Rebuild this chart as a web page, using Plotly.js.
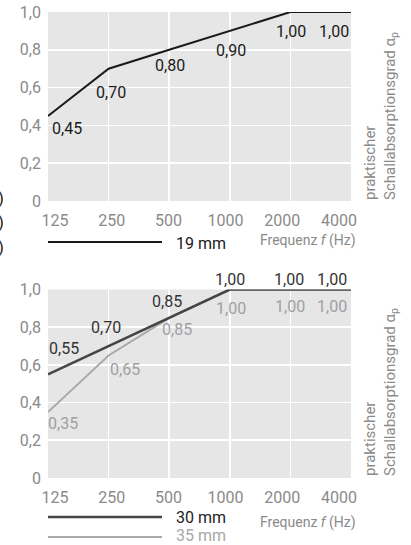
<!DOCTYPE html>
<html>
<head>
<meta charset="utf-8">
<script src="https://cdn.plot.ly/plotly-3.0.1.min.js"></script>
<style>html,body{margin:0;padding:0;background:#fff;}#chart{width:411px;height:545px;}</style>
</head>
<body>
<div id="chart"></div>
<script>
// ---- data ----
const freqs = ['125', '250', '500', '1000', '2000', '4000'];
const alpha19 = [0.45, 0.70, 0.80, 0.90, 1.00, 1.00];
const alpha30 = [0.55, 0.70, 0.85, 1.00, 1.00, 1.00];
const alpha35 = [0.35, 0.65, 0.85, 1.00, 1.00, 1.00];
const yTickVals = [0, 0.2, 0.4, 0.6, 0.8, 1.0];
const yTickText = ['0', '0,2', '0,4', '0,6', '0,8', '1,0'];
const seriesNames = ['19 mm', '30 mm', '35 mm'];

// ---- label placement (pixel offsets from each point) ----
const off19 = [[2, -13, 'left'], [2, -24, 'center'], [1, -16, 'center'], [1, -20, 'center'], [1, -19, 'center'], [-17, -19, 'center']];
const off30 = [[16, 26, 'center'], [-3, 19, 'center'], [-2, 16, 'center'], [0, 10, 'center'], [-1, 10, 'center'], [-19, 10, 'center']];
const off35 = [[15, -11, 'center'], [16, -14, 'center'], [8, -12, 'center'], [1, -19, 'center'], [0, -17, 'center'], [-19, -17, 'center']];

const W = 411, H = 545;
const px = v => v / W;
const py = v => 1 - v / H;
const FONT = 'Roboto, "Liberation Sans", Arial, sans-serif';
const idx = freqs.map((_, i) => i);
const fmt = v => v.toFixed(2).replace('.', ',');

const C19 = '#1a1a1a', C30 = '#454545', C35 = '#a9a9a9', GRAY = '#8a8a8a';

const traces = [
  {x: idx, y: alpha19, xaxis: 'x', yaxis: 'y', mode: 'lines', line: {color: C19, width: 2}, cliponaxis: false, hoverinfo: 'skip', name: seriesNames[0]},
  {x: idx, y: alpha35, xaxis: 'x2', yaxis: 'y2', mode: 'lines', line: {color: C35, width: 2}, cliponaxis: false, hoverinfo: 'skip', name: seriesNames[2]},
  {x: idx, y: alpha30, xaxis: 'x2', yaxis: 'y2', mode: 'lines', line: {color: C30, width: 2.5}, cliponaxis: false, hoverinfo: 'skip', name: seriesNames[1]},
  // invisible carriers so the frequency tick-label axes are drawn
  {x: idx, y: alpha19, xaxis: 'x3', yaxis: 'y', mode: 'lines', line: {color: 'rgba(0,0,0,0)', width: 0}, hoverinfo: 'skip', showlegend: false},
  {x: idx, y: alpha30, xaxis: 'x4', yaxis: 'y2', mode: 'lines', line: {color: 'rgba(0,0,0,0)', width: 0}, hoverinfo: 'skip', showlegend: false}
];

function labelAnns(vals, offs, xr, yr, color) {
  return vals.map((v, i) => ({
    x: i, y: v, xref: xr, yref: yr, text: fmt(v), showarrow: false,
    xanchor: offs[i][2], yanchor: 'middle',
    xshift: offs[i][0], yshift: offs[i][1],
    font: {family: FONT, size: 16, color: color}
  }));
}

const plotL = 48, plotR = 351;
const xDom = [px(plotL), px(plotR)];
const topDom = [py(201), py(12)];
const botDom = [py(478), py(289.5)];
// tick-label axis range: labels evenly spread from 55px to 339px
const s = (plotR - plotL) / (339 - 55) * 5;
const r0 = -(55 - plotL) / (plotR - plotL) * s;
const tickRange = [r0, r0 + s];

const baseX = {domain: xDom, range: [0, 5], showticklabels: false, ticks: '', showgrid: true, gridcolor: '#ffffff', gridwidth: 1.6, zeroline: false, showline: false, tickvals: idx, fixedrange: true};
const baseY = {range: [0, 1], tickvals: yTickVals, ticktext: yTickText, ticks: '', showgrid: true, gridcolor: '#ffffff', gridwidth: 1.6, zeroline: false, showline: false, ticklabelstandoff: 6, tickfont: {family: FONT, size: 16, color: GRAY}, fixedrange: true};
const tickX = {range: tickRange, tickvals: idx, ticktext: freqs, showgrid: false, zeroline: false, showline: false, ticks: '', tickfont: {family: FONT, size: 16, color: GRAY}, ticklabelstandoff: 8, fixedrange: true};

const rightTitle = 'praktischer<br>Schallabsorptionsgrad α<sub>p</sub>';

const annotations = []
  .concat(labelAnns(alpha19, off19, 'x', 'y', C19))
  .concat(labelAnns(alpha35, off35, 'x2', 'y2', '#a0a0a0'))
  .concat(labelAnns(alpha30, off30, 'x2', 'y2', '#333333'))
  .concat([
    {xref: 'paper', yref: 'paper', x: px(174), y: py(243), xanchor: 'left', yanchor: 'middle', text: seriesNames[0], showarrow: false, font: {family: FONT, size: 16, color: C19}},
    {xref: 'paper', yref: 'paper', x: px(174), y: py(517), xanchor: 'left', yanchor: 'middle', text: seriesNames[1], showarrow: false, font: {family: FONT, size: 16, color: '#222'}},
    {xref: 'paper', yref: 'paper', x: px(174), y: py(535), xanchor: 'left', yanchor: 'middle', text: seriesNames[2], showarrow: false, font: {family: FONT, size: 16, color: '#a8a8a8'}},
    {xref: 'paper', yref: 'paper', x: px(358), y: py(241), xanchor: 'right', yanchor: 'middle', text: 'Frequenz <i>f</i> (Hz)', showarrow: false, font: {family: FONT, size: 14, color: GRAY}},
    {xref: 'paper', yref: 'paper', x: px(358), y: py(522), xanchor: 'right', yanchor: 'middle', text: 'Frequenz <i>f</i> (Hz)', showarrow: false, font: {family: FONT, size: 14, color: GRAY}},
    {xref: 'paper', yref: 'paper', x: px(381), y: py(202), xanchor: 'center', yanchor: 'bottom', textangle: -90, align: 'left', text: rightTitle, showarrow: false, font: {family: FONT, size: 15, color: GRAY}},
    {xref: 'paper', yref: 'paper', x: px(381), y: py(478), xanchor: 'center', yanchor: 'bottom', textangle: -90, align: 'left', text: rightTitle, showarrow: false, font: {family: FONT, size: 15, color: GRAY}},
    {xref: 'paper', yref: 'paper', x: px(6), y: py(198), xanchor: 'right', yanchor: 'middle', text: ')', showarrow: false, font: {family: FONT, size: 17, color: '#222'}},
    {xref: 'paper', yref: 'paper', x: px(6), y: py(222), xanchor: 'right', yanchor: 'middle', text: ')', showarrow: false, font: {family: FONT, size: 17, color: '#222'}},
    {xref: 'paper', yref: 'paper', x: px(6), y: py(247), xanchor: 'right', yanchor: 'middle', text: ')', showarrow: false, font: {family: FONT, size: 17, color: '#222'}}
  ]);

const shapes = [
  {type: 'line', xref: 'paper', yref: 'paper', x0: px(48), x1: px(162), y0: py(242), y1: py(242), line: {color: C19, width: 2}},
  {type: 'line', xref: 'paper', yref: 'paper', x0: px(48), x1: px(162), y0: py(517), y1: py(517), line: {color: C30, width: 2.5}},
  {type: 'line', xref: 'paper', yref: 'paper', x0: px(48), x1: px(162), y0: py(537), y1: py(537), line: {color: C35, width: 2}}
];

const layout = {
  width: W, height: H,
  margin: {l: 0, r: 0, t: 0, b: 0, pad: 0},
  paper_bgcolor: '#ffffff', plot_bgcolor: '#e6e6e7',
  showlegend: false,
  font: {family: FONT, color: GRAY},
  xaxis: Object.assign({}, baseX, {anchor: 'y'}),
  yaxis: Object.assign({}, baseY, {domain: topDom, anchor: 'x'}),
  xaxis2: Object.assign({}, baseX, {anchor: 'y2'}),
  yaxis2: Object.assign({}, baseY, {domain: botDom, anchor: 'x2'}),
  xaxis3: Object.assign({}, tickX, {overlaying: 'x', anchor: 'y'}),
  xaxis4: Object.assign({}, tickX, {overlaying: 'x2', anchor: 'y2'}),
  annotations: annotations,
  shapes: shapes
};

Plotly.newPlot('chart', traces, layout, {staticPlot: true, displayModeBar: false});
</script>
</body>
</html>
